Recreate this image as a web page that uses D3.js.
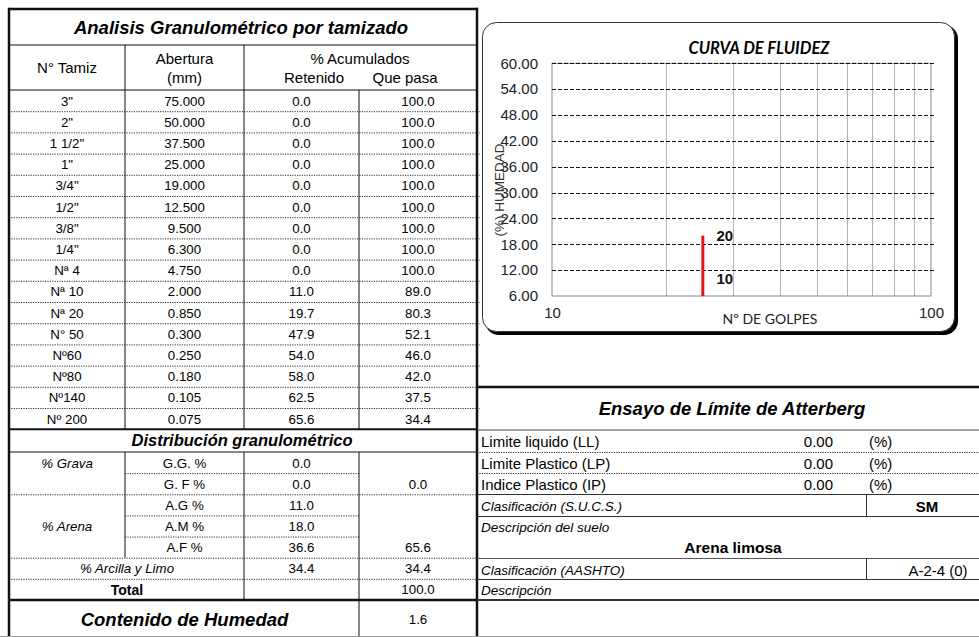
<!DOCTYPE html>
<html><head><meta charset="utf-8">
<script src="https://cdn.jsdelivr.net/npm/d3@7"></script>
<style>html,body{margin:0;padding:0;background:#fff;}svg{display:block;}</style>
</head><body>
<svg id="c" width="979" height="637"></svg>
<script>
// ---------- DATA ----------
const sieves = ['3"','2"','1 1/2"','1"','3/4"','1/2"','3/8"','1/4"','Nª 4','Nª 10','Nª 20','N° 50','Nº60','Nº80','Nº140','Nº 200'];
const aberturas = [75.000,50.000,37.500,25.000,19.000,12.500,9.500,6.300,4.750,2.000,0.850,0.300,0.250,0.180,0.105,0.075];
const retenido = [0.0,0.0,0.0,0.0,0.0,0.0,0.0,0.0,0.0,11.0,19.7,47.9,54.0,58.0,62.5,65.6];
const quePasa = [100.0,100.0,100.0,100.0,100.0,100.0,100.0,100.0,100.0,89.0,80.3,52.1,46.0,42.0,37.5,34.4];

const distLabels = ['G.G. %','G. F %','A.G %','A.M %','A.F %'];
const distValues = [0.0,0.0,11.0,18.0,36.6];
const groupNames = ['% Grava','% Arena'];
const groupTotals = [0.0,65.6];
const finos = 34.4;
const total = 100.0;
const humedad = 1.6;

const limitLabels = ['Limite liquido (LL)','Limite Plastico (LP)','Indice Plastico (IP)'];
const limitValues = [0.00,0.00,0.00];
const sucs = 'SM';
const descripcion = 'Arena limosa';
const aashto = 'A-2-4 (0)';

const yTicks = [6,12,18,24,30,36,42,48,54,60];
const xTickLabels = [10,100];
const xGrid = [20,30,40,50,60,70,80,90];
const golpes = [25,25];
const humedades = [6,20];
const pointLabels = [{g:25,h:20,t:'20'},{g:25,h:10,t:'10'}];

// ---------- DRAW ----------
const svg = d3.select('#c');
const F = 'Arial, "Liberation Sans", sans-serif';
function ln(x1,y1,x2,y2,o={}){
  svg.append('line').attr('x1',x1).attr('y1',y1).attr('x2',x2).attr('y2',y2)
    .attr('stroke',o.c||'#111').attr('stroke-width',o.w||1)
    .attr('stroke-dasharray',o.d||null);
}
function dot(x1,y,x2){ ln(x1,y+0.5,x2,y+0.5,{c:'#333',w:1,d:'1.2,1.2'}); }
function tx(x,y,s,o={}){
  return svg.append('text').attr('x',x).attr('y',y).text(s)
    .attr('font-family',o.f||F).attr('font-size',o.s||13)
    .attr('font-weight',o.b?'bold':'normal').attr('font-style',o.i?'italic':'normal')
    .attr('text-anchor',o.a||'middle').attr('dominant-baseline','central')
    .attr('fill',o.c||'#000');
}

// Left table geometry
const cols = [9,125,244,359,477];
const cc = [67,184.5,301.5,418];
const topY = 9, titleB = 45, headB = 90;
const rowH = 21.2;
const rows = d3.range(sieves.length+1).map(i=>headB+i*rowH);
const dataB = rows[rows.length-1];
const distTitleB = 452;
const dRowH = 21.14;
const dRows = d3.range(8).map(i=>distTitleB+i*dRowH);
const totalB = 600, bottomY = 636;

tx(241,27,'Analisis Granulométrico por tamizado',{s:18.5,b:true,i:true});
tx(67,67,'N° Tamiz',{s:15});
tx(184.5,58,'Abertura',{s:15});
tx(184.5,77,'(mm)',{s:15});
tx(360,58,'% Acumulados',{s:15});
tx(314,77,'Retenido',{s:15});
tx(405,77,'Que pasa',{s:15});

sieves.forEach((s,i)=>{
  const y = rows[i]+rowH/2+0.5;
  tx(cc[0],y,s,{s:13.3});
  tx(cc[1],y,d3.format('.3f')(aberturas[i]),{s:13.3});
  tx(cc[2],y,d3.format('.1f')(retenido[i]),{s:13.3});
  tx(cc[3],y,d3.format('.1f')(quePasa[i]),{s:13.3});
  if(i<sieves.length-1) dot(cols[0],rows[i+1],cols[4]+3);
});
ln(cols[0],titleB,cols[4],titleB,{w:1});
ln(cols[0],headB,cols[4],headB,{w:1});
ln(cols[1],titleB,cols[1],dataB);
ln(cols[2],titleB,cols[2],dataB);
ln(cols[3],headB,cols[3],dataB);
ln(cols[0],dataB,cols[4],dataB,{w:2});

// Distribution
tx(242,440,'Distribución granulométrico',{s:16.5,b:true,i:true});
ln(cols[0],distTitleB,cols[4],distTitleB,{w:1});
const dc = i=>dRows[i]+dRowH/2+0.5;
distLabels.forEach((l,i)=>{
  tx(cc[1],dc(i),l,{s:13.3});
  tx(cc[2],dc(i),d3.format('.1f')(distValues[i]),{s:13.3});
});
tx(cc[0],dc(0),groupNames[0],{i:true,s:13.3});
tx(cc[3],dc(1),d3.format('.1f')(groupTotals[0]),{s:13.3});
tx(cc[0],dc(3),groupNames[1],{i:true,s:13.3});
tx(cc[3],dc(4),d3.format('.1f')(groupTotals[1]),{s:13.3});
tx(127,dc(5),'%  Arcilla  y Limo',{i:true,s:13.3});
tx(cc[2],dc(5),d3.format('.1f')(finos),{s:13.3});
tx(cc[3],dc(5),d3.format('.1f')(finos),{s:13.3});
tx(127,dc(6),'Total',{b:true,s:14});
tx(cc[3],dc(6),d3.format('.1f')(total),{s:13.3});
[0,2,3].forEach(i=>dot(cols[1],dRows[i+1],cols[3]));
[1,4,5].forEach(i=>dot(cols[0],dRows[i+1],cols[4]+3));
ln(cols[1],distTitleB,cols[1],dRows[5]);
ln(cols[2],distTitleB,cols[2],totalB);
ln(cols[3],distTitleB,cols[3],bottomY);
ln(cols[0],totalB,cols[4],totalB,{w:2.5});
tx(184.5,619,'Contenido de Humedad',{s:18.5,b:true,i:true});
tx(cc[3],619,d3.format('.1f')(humedad),{s:13.3});

// outer borders of left table
ln(cols[0],topY,cols[4],topY,{w:2.5});
ln(cols[0],topY-1.25,cols[0],bottomY+1,{w:2.5});
ln(cols[4],topY-1.25,cols[4],bottomY+1,{w:2.5});
ln(0,bottomY+0.5,979,bottomY+0.5,{c:'#999',w:1});

// Right: Atterberg table
const rx0 = 477, rx1 = 979;
ln(rx0,387,rx1,387,{w:2.5});
tx(732,408,'Ensayo de Límite de Atterberg',{s:18.5,b:true,i:true});
ln(rx0,430,rx1,430,{c:'#444',w:1});
const lRows = [430,452,473,494];
limitLabels.forEach((l,i)=>{
  const y = lRows[i]+11.5;
  tx(481,y,l,{s:15,a:'start'});
  tx(833,y,d3.format('.2f')(limitValues[i]),{s:15,a:'end'});
  tx(869,y,'(%)',{s:15,a:'start'});
});
dot(rx0,452,rx1); dot(rx0,473,rx1);
ln(rx0,494.5,rx1,494.5,{c:'#333',w:1});
tx(481,506,'Clasificación (S.U.C.S.)',{s:13.5,i:true,a:'start'});
tx(927,506,sucs,{s:15,b:true});
ln(rx0,516.5,rx1,516.5,{c:'#333',w:1});
ln(866.5,494,866.5,516,{c:'#333',w:1});
tx(481,527,'Descripción del suelo',{s:13.5,i:true,a:'start'});
tx(733,547,descripcion,{s:15.5,b:true});
ln(rx0,558.5,rx1,558.5,{c:'#555',w:1});
tx(481,570,'Clasificación (AASHTO)',{s:13.5,i:true,a:'start'});
tx(938,570,aashto,{s:15});
ln(rx0,579.5,rx1,579.5,{c:'#333',w:1});
ln(866.5,558,866.5,579,{c:'#333',w:1});
tx(481,590,'Descripción',{s:13.5,i:true,a:'start'});
ln(rx0,600,rx1,600,{c:'#333',w:2});

// Chart box
svg.append('rect').attr('x',485).attr('y',25).attr('width',473).attr('height',310).attr('rx',14).attr('fill','#000');
svg.append('rect').attr('x',482.5).attr('y',22.5).attr('width',472).attr('height',309).attr('rx',14)
  .attr('fill','#fff').attr('stroke','#333').attr('stroke-width',1);

const x = d3.scaleLog().domain([10,100]).range([552,931]);
const y = d3.scaleLinear().domain([6,60]).range([296,63.3]);
const CF = 'Lato, "Open Sans", sans-serif';
tx(759,48,'CURVA DE FLUIDEZ',{f:CF,s:16.5,b:true,i:true});

// vertical gridlines
svg.append('g').selectAll('line').data(xGrid).join('line')
  .attr('x1',d=>Math.round(x(d))+0.5).attr('x2',d=>Math.round(x(d))+0.5)
  .attr('y1',y(60)).attr('y2',y(6)).attr('stroke','#b5b5b5').attr('stroke-width',1);
// plot border
svg.append('rect').attr('x',x(10)).attr('y',y(60)).attr('width',x(100)-x(10)).attr('height',y(6)-y(60))
  .attr('fill','none').attr('stroke','#888').attr('stroke-width',1);
// horizontal dashed gridlines
svg.append('g').selectAll('line').data(yTicks.filter(d=>d>6)).join('line')
  .attr('x1',x(10)).attr('x2',x(100)+4).attr('y1',d=>Math.round(y(d))+0.5).attr('y2',d=>Math.round(y(d))+0.5)
  .attr('stroke','#111').attr('stroke-width',1.2).attr('stroke-dasharray','4,2');

// y axis labels
const yAxis = d3.axisLeft(y).tickValues(yTicks).tickFormat(d3.format('.2f')).tickSize(0).tickPadding(14);
const gy = svg.append('g').attr('transform',`translate(${x(10)},0)`).call(yAxis);
gy.select('.domain').remove();
gy.selectAll('text').attr('font-family',F).attr('font-size',15).attr('fill','#222');
// x axis labels
const xAxis = d3.axisBottom(x).tickValues(xTickLabels).tickFormat(d3.format('d')).tickSize(0).tickPadding(11);
const gx = svg.append('g').attr('transform',`translate(0,${y(6)})`).call(xAxis);
gx.select('.domain').remove();
gx.selectAll('text').attr('font-family',F).attr('font-size',15).attr('fill','#222');
tx(770,318,'Nº DE GOLPES',{f:CF,s:14,c:'#222'});
tx(499,190,'(%) HUMEDAD',{s:13.5,c:'#333'}).attr('transform','rotate(-90,499,190)');

// red line
const lineGen = d3.line().x(d=>x(d[0])).y(d=>y(d[1]));
svg.append('path').datum(golpes.map((g,i)=>[g,humedades[i]])).attr('d',lineGen)
  .attr('fill','none').attr('stroke','#e0161b').attr('stroke-width',3);
svg.append('g').selectAll('text').data(pointLabels).join('text')
  .attr('x',d=>x(d.g)+22).attr('y',d=>y(d.h)).text(d=>d.t)
  .attr('font-family',F).attr('font-size',15).attr('font-weight','bold')
  .attr('text-anchor','middle').attr('dominant-baseline','central').attr('fill','#111');
</script>
</body></html>
